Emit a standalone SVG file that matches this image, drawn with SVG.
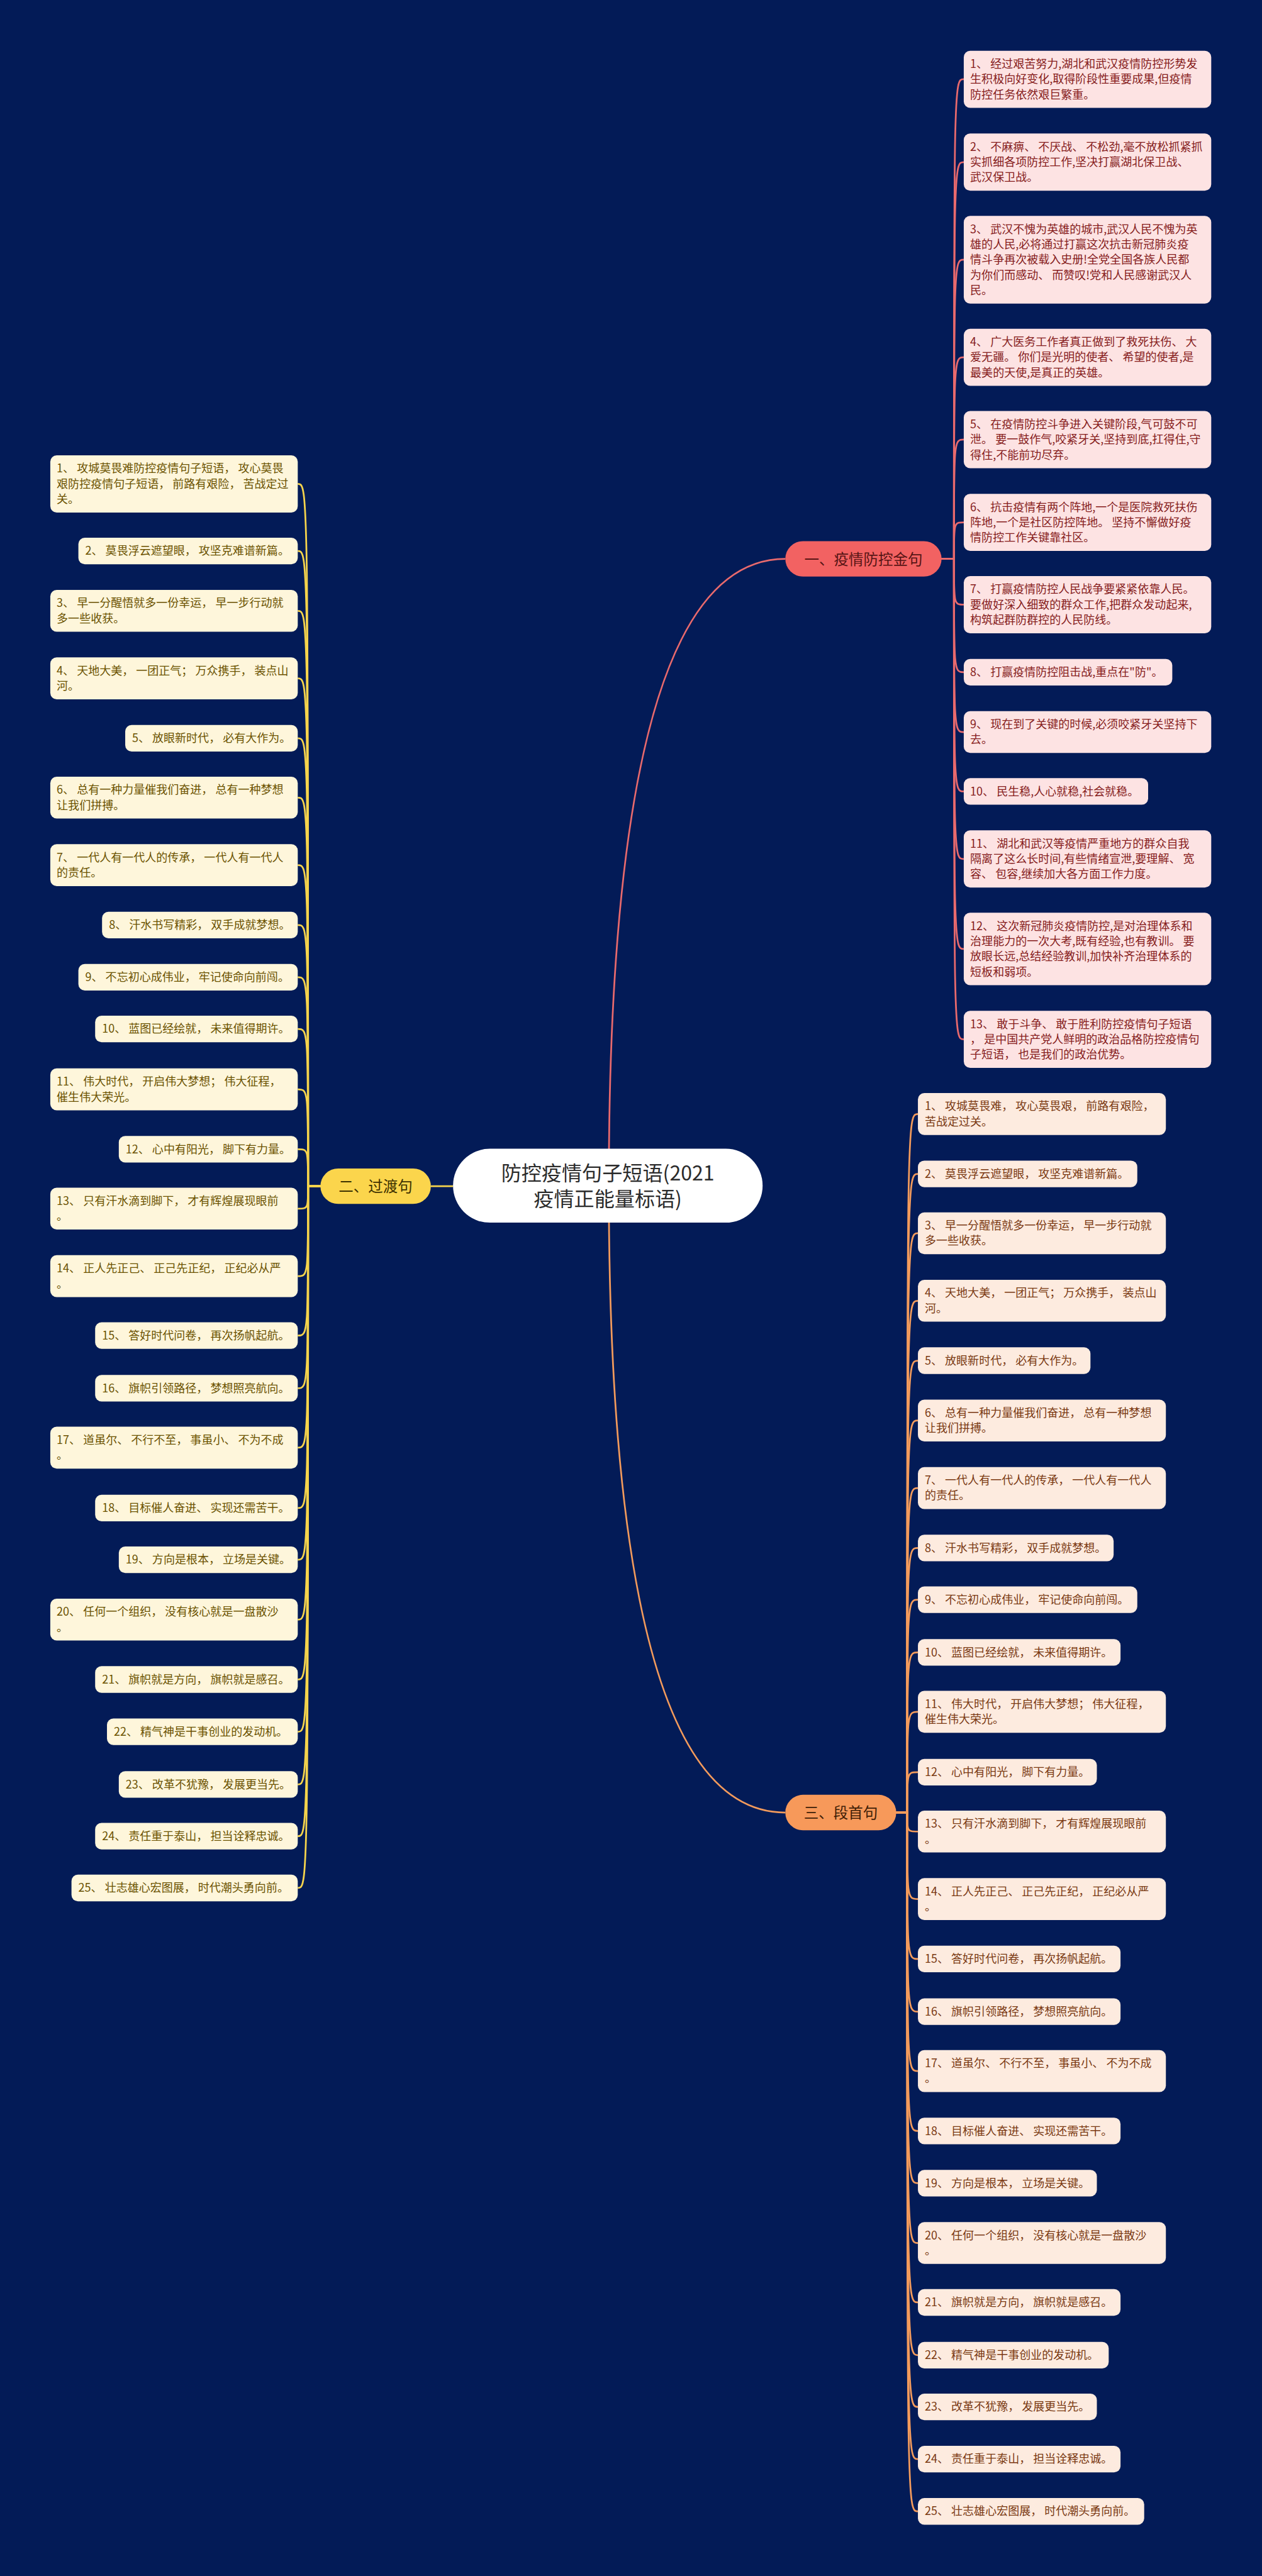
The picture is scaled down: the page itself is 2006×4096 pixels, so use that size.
<svg xmlns="http://www.w3.org/2000/svg" width="2006" height="4096" viewBox="0 0 2006 4096">
<style>
text{font-family:"Noto Sans CJK SC","Noto Sans",sans-serif;}
.lf{font-size:23px;}
.pk{fill:#FDE3E3;}
.pkt{fill:#861C1C;}
.yl{fill:#FEF6DB;}
.ylt{fill:#6B5200;}
.or{fill:#FDEBDF;}
.ort{fill:#7A3912;}
.c1{fill:none;stroke:#E96A6D;stroke-width:3.5;}
.c2{fill:none;stroke:#F6D44C;stroke-width:3.5;}
.c3{fill:none;stroke:#F39B5C;stroke-width:3.5;}
.lbl{font-size:30px;text-anchor:middle;}
</style>
<rect x="0" y="0" width="2006" height="4096" fill="#031B57"/>
<g transform="scale(0.7836)">
<g id="connectors">
<path class="c1" d="M1235 2406Q1235 1134 1593 1134" stroke-width="4.5"/>
<path class="c3" d="M1235 2406Q1235 3678 1593 3678" stroke-width="4.5"/>
<path class="c2" d="M919 2407H874" stroke-width="4.5"/>
<path class="c1" d="M1910 1134H1935C1935 160.5 1935 160.5 1955 160.5"/>
<path class="c1" d="M1910 1134H1935C1935 329 1935 329 1955 329"/>
<path class="c1" d="M1910 1134H1935C1935 527 1935 527 1955 527"/>
<path class="c1" d="M1910 1134H1935C1935 725 1935 725 1955 725"/>
<path class="c1" d="M1910 1134H1935C1935 892 1935 892 1955 892"/>
<path class="c1" d="M1910 1134H1935C1935 1060 1935 1060 1955 1060"/>
<path class="c1" d="M1910 1134H1935C1935 1227 1935 1227 1955 1227"/>
<path class="c1" d="M1910 1134H1935C1935 1364 1935 1364 1955 1364"/>
<path class="c1" d="M1910 1134H1935C1935 1485.5 1935 1485.5 1955 1485.5"/>
<path class="c1" d="M1910 1134H1935C1935 1606 1935 1606 1955 1606"/>
<path class="c1" d="M1910 1134H1935C1935 1743 1935 1743 1955 1743"/>
<path class="c1" d="M1910 1134H1935C1935 1925.5 1935 1925.5 1955 1925.5"/>
<path class="c1" d="M1910 1134H1935C1935 2109 1935 2109 1955 2109"/>
<path class="c2" d="M650 2407H625C625 982 625 982 604 982"/>
<path class="c2" d="M650 2407H625C625 1118 625 1118 604 1118"/>
<path class="c2" d="M650 2407H625C625 1239.5 625 1239.5 604 1239.5"/>
<path class="c2" d="M650 2407H625C625 1376.5 625 1376.5 604 1376.5"/>
<path class="c2" d="M650 2407H625C625 1498 625 1498 604 1498"/>
<path class="c2" d="M650 2407H625C625 1618.5 625 1618.5 604 1618.5"/>
<path class="c2" d="M650 2407H625C625 1755.5 625 1755.5 604 1755.5"/>
<path class="c2" d="M650 2407H625C625 1877 625 1877 604 1877"/>
<path class="c2" d="M650 2407H625C625 1983 625 1983 604 1983"/>
<path class="c2" d="M650 2407H625C625 2088 625 2088 604 2088"/>
<path class="c2" d="M650 2407H625C625 2210.5 625 2210.5 604 2210.5"/>
<path class="c2" d="M650 2407H625C625 2332 625 2332 604 2332"/>
<path class="c2" d="M650 2407H625C625 2452.5 625 2452.5 604 2452.5"/>
<path class="c2" d="M650 2407H625C625 2589.5 625 2589.5 604 2589.5"/>
<path class="c2" d="M650 2407H625C625 2710 625 2710 604 2710"/>
<path class="c2" d="M650 2407H625C625 2817 625 2817 604 2817"/>
<path class="c2" d="M650 2407H625C625 2937.5 625 2937.5 604 2937.5"/>
<path class="c2" d="M650 2407H625C625 3060 625 3060 604 3060"/>
<path class="c2" d="M650 2407H625C625 3165 625 3165 604 3165"/>
<path class="c2" d="M650 2407H625C625 3286.5 625 3286.5 604 3286.5"/>
<path class="c2" d="M650 2407H625C625 3408 625 3408 604 3408"/>
<path class="c2" d="M650 2407H625C625 3514 625 3514 604 3514"/>
<path class="c2" d="M650 2407H625C625 3621 625 3621 604 3621"/>
<path class="c2" d="M650 2407H625C625 3726 625 3726 604 3726"/>
<path class="c2" d="M650 2407H625C625 3831 625 3831 604 3831"/>
<path class="c3" d="M1818 3678H1840C1840 2260.5 1840 2260.5 1862 2260.5"/>
<path class="c3" d="M1818 3678H1840C1840 2382 1840 2382 1862 2382"/>
<path class="c3" d="M1818 3678H1840C1840 2502.5 1840 2502.5 1862 2502.5"/>
<path class="c3" d="M1818 3678H1840C1840 2639.5 1840 2639.5 1862 2639.5"/>
<path class="c3" d="M1818 3678H1840C1840 2761 1840 2761 1862 2761"/>
<path class="c3" d="M1818 3678H1840C1840 2882.5 1840 2882.5 1862 2882.5"/>
<path class="c3" d="M1818 3678H1840C1840 3019.5 1840 3019.5 1862 3019.5"/>
<path class="c3" d="M1818 3678H1840C1840 3141 1840 3141 1862 3141"/>
<path class="c3" d="M1818 3678H1840C1840 3246 1840 3246 1862 3246"/>
<path class="c3" d="M1818 3678H1840C1840 3353 1840 3353 1862 3353"/>
<path class="c3" d="M1818 3678H1840C1840 3473.5 1840 3473.5 1862 3473.5"/>
<path class="c3" d="M1818 3678H1840C1840 3596 1840 3596 1862 3596"/>
<path class="c3" d="M1818 3678H1840C1840 3716.5 1840 3716.5 1862 3716.5"/>
<path class="c3" d="M1818 3678H1840C1840 3853.5 1840 3853.5 1862 3853.5"/>
<path class="c3" d="M1818 3678H1840C1840 3975 1840 3975 1862 3975"/>
<path class="c3" d="M1818 3678H1840C1840 4082 1840 4082 1862 4082"/>
<path class="c3" d="M1818 3678H1840C1840 4202.5 1840 4202.5 1862 4202.5"/>
<path class="c3" d="M1818 3678H1840C1840 4324 1840 4324 1862 4324"/>
<path class="c3" d="M1818 3678H1840C1840 4430 1840 4430 1862 4430"/>
<path class="c3" d="M1818 3678H1840C1840 4551.5 1840 4551.5 1862 4551.5"/>
<path class="c3" d="M1818 3678H1840C1840 4672 1840 4672 1862 4672"/>
<path class="c3" d="M1818 3678H1840C1840 4779 1840 4779 1862 4779"/>
<path class="c3" d="M1818 3678H1840C1840 4884 1840 4884 1862 4884"/>
<path class="c3" d="M1818 3678H1840C1840 4990 1840 4990 1862 4990"/>
<path class="c3" d="M1818 3678H1840C1840 5096 1840 5096 1862 5096"/>
</g>

<g id="center">
<rect x="919" y="2331" width="628" height="150" rx="75" fill="#FFFFFF"/>
<text x="1233" y="2395" font-size="41" fill="#2B2B2B" text-anchor="middle">防控疫情句子短语(2021</text>
<text x="1233" y="2448" font-size="41" fill="#2B2B2B" text-anchor="middle">疫情正能量标语)</text>
</g>

<g id="b1">
<rect x="1593" y="1098" width="317" height="72" rx="36" fill="#F26262"/>
<text class="lbl" x="1751.5" y="1145.5" fill="#561414">一、疫情防控金句</text>
</g>
<g id="b2">
<rect x="650" y="2371" width="224" height="72" rx="36" fill="#FBD54C"/>
<text class="lbl" x="762" y="2418.5" fill="#3D3100">二、过渡句</text>
</g>
<g id="b3">
<rect x="1593" y="3642" width="225" height="72" rx="36" fill="#F7995A"/>
<text class="lbl" x="1705.5" y="3689.5" fill="#3F1E07">三、段首句</text>
</g>

<g id="p1"><rect class="pk" x="1955" y="103" width="502" height="116" rx="13"/><text class="lf pkt" x="1968" y="138">1、 经过艰苦努力,湖北和武汉疫情防控形势发<tspan x="1968" dy="31">生积极向好变化,取得阶段性重要成果,但疫情</tspan><tspan x="1968" dy="31">防控任务依然艰巨繁重。</tspan></text></g>
<g id="p2"><rect class="pk" x="1955" y="271" width="502" height="116" rx="13"/><text class="lf pkt" x="1968" y="306">2、 不麻痹、 不厌战、 不松劲,毫不放松抓紧抓<tspan x="1968" dy="31">实抓细各项防控工作,坚决打赢湖北保卫战、</tspan><tspan x="1968" dy="31">武汉保卫战。</tspan></text></g>
<g id="p3"><rect class="pk" x="1955" y="438" width="502" height="178" rx="13"/><text class="lf pkt" x="1968" y="473">3、 武汉不愧为英雄的城市,武汉人民不愧为英<tspan x="1968" dy="31">雄的人民,必将通过打赢这次抗击新冠肺炎疫</tspan><tspan x="1968" dy="31">情斗争再次被载入史册!全党全国各族人民都</tspan><tspan x="1968" dy="31">为你们而感动、 而赞叹!党和人民感谢武汉人</tspan><tspan x="1968" dy="31">民。</tspan></text></g>
<g id="p4"><rect class="pk" x="1955" y="667" width="502" height="116" rx="13"/><text class="lf pkt" x="1968" y="702">4、 广大医务工作者真正做到了救死扶伤、 大<tspan x="1968" dy="31">爱无疆。 你们是光明的使者、 希望的使者,是</tspan><tspan x="1968" dy="31">最美的天使,是真正的英雄。</tspan></text></g>
<g id="p5"><rect class="pk" x="1955" y="834" width="502" height="116" rx="13"/><text class="lf pkt" x="1968" y="869">5、 在疫情防控斗争进入关键阶段,气可鼓不可<tspan x="1968" dy="31">泄。 要一鼓作气,咬紧牙关,坚持到底,扛得住,守</tspan><tspan x="1968" dy="31">得住,不能前功尽弃。</tspan></text></g>
<g id="p6"><rect class="pk" x="1955" y="1002" width="502" height="116" rx="13"/><text class="lf pkt" x="1968" y="1037">6、 抗击疫情有两个阵地,一个是医院救死扶伤<tspan x="1968" dy="31">阵地,一个是社区防控阵地。 坚持不懈做好疫</tspan><tspan x="1968" dy="31">情防控工作关键靠社区。</tspan></text></g>
<g id="p7"><rect class="pk" x="1955" y="1169" width="502" height="116" rx="13"/><text class="lf pkt" x="1968" y="1204">7、 打赢疫情防控人民战争要紧紧依靠人民。<tspan x="1968" dy="31">要做好深入细致的群众工作,把群众发动起来,</tspan><tspan x="1968" dy="31">构筑起群防群控的人民防线。</tspan></text></g>
<g id="p8"><rect class="pk" x="1955" y="1337" width="423" height="54" rx="13"/><text class="lf pkt" x="1968" y="1372">8、 打赢疫情防控阻击战,重点在"防"。</text></g>
<g id="p9"><rect class="pk" x="1955" y="1443" width="502" height="85" rx="13"/><text class="lf pkt" x="1968" y="1478">9、 现在到了关键的时候,必须咬紧牙关坚持下<tspan x="1968" dy="31">去。</tspan></text></g>
<g id="p10"><rect class="pk" x="1955" y="1579" width="374" height="54" rx="13"/><text class="lf pkt" x="1968" y="1614">10、 民生稳,人心就稳,社会就稳。</text></g>
<g id="p11"><rect class="pk" x="1955" y="1685" width="502" height="116" rx="13"/><text class="lf pkt" x="1968" y="1720">11、 湖北和武汉等疫情严重地方的群众自我<tspan x="1968" dy="31">隔离了这么长时间,有些情绪宣泄,要理解、 宽</tspan><tspan x="1968" dy="31">容、 包容,继续加大各方面工作力度。</tspan></text></g>
<g id="p12"><rect class="pk" x="1955" y="1852" width="502" height="147" rx="13"/><text class="lf pkt" x="1968" y="1887">12、 这次新冠肺炎疫情防控,是对治理体系和<tspan x="1968" dy="31">治理能力的一次大考,既有经验,也有教训。 要</tspan><tspan x="1968" dy="31">放眼长远,总结经验教训,加快补齐治理体系的</tspan><tspan x="1968" dy="31">短板和弱项。</tspan></text></g>
<g id="p13"><rect class="pk" x="1955" y="2051" width="502" height="116" rx="13"/><text class="lf pkt" x="1968" y="2086">13、 敢于斗争、 敢于胜利防控疫情句子短语<tspan x="1968" dy="31">， 是中国共产党人鲜明的政治品格防控疫情句</tspan><tspan x="1968" dy="31">子短语， 也是我们的政治优势。</tspan></text></g>

<g id="l1"><rect class="yl" x="102" y="924" width="502" height="116" rx="13"/><text class="lf ylt" x="115" y="959">1、 攻城莫畏难防控疫情句子短语， 攻心莫畏<tspan x="115" dy="31">艰防控疫情句子短语， 前路有艰险， 苦战定过</tspan><tspan x="115" dy="31">关。</tspan></text></g>
<g id="l2"><rect class="yl" x="159" y="1091" width="445" height="54" rx="13"/><text class="lf ylt" x="173" y="1126">2、 莫畏浮云遮望眼， 攻坚克难谱新篇。</text></g>
<g id="l3"><rect class="yl" x="102" y="1197" width="502" height="85" rx="13"/><text class="lf ylt" x="115" y="1232">3、 早一分醒悟就多一份幸运， 早一步行动就<tspan x="115" dy="31">多一些收获。</tspan></text></g>
<g id="l4"><rect class="yl" x="102" y="1334" width="502" height="85" rx="13"/><text class="lf ylt" x="115" y="1369">4、 天地大美， 一团正气； 万众携手， 装点山<tspan x="115" dy="31">河。</tspan></text></g>
<g id="l5"><rect class="yl" x="254" y="1471" width="350" height="54" rx="13"/><text class="lf ylt" x="268" y="1506">5、 放眼新时代， 必有大作为。</text></g>
<g id="l6"><rect class="yl" x="102" y="1576" width="502" height="85" rx="13"/><text class="lf ylt" x="115" y="1611">6、 总有一种力量催我们奋进， 总有一种梦想<tspan x="115" dy="31">让我们拼搏。</tspan></text></g>
<g id="l7"><rect class="yl" x="102" y="1713" width="502" height="85" rx="13"/><text class="lf ylt" x="115" y="1748">7、 一代人有一代人的传承， 一代人有一代人<tspan x="115" dy="31">的责任。</tspan></text></g>
<g id="l8"><rect class="yl" x="207" y="1850" width="397" height="54" rx="13"/><text class="lf ylt" x="221" y="1885">8、 汗水书写精彩， 双手成就梦想。</text></g>
<g id="l9"><rect class="yl" x="159" y="1956" width="445" height="54" rx="13"/><text class="lf ylt" x="173" y="1991">9、 不忘初心成伟业， 牢记使命向前闯。</text></g>
<g id="l10"><rect class="yl" x="193" y="2061" width="411" height="54" rx="13"/><text class="lf ylt" x="207" y="2096">10、 蓝图已经绘就， 未来值得期许。</text></g>
<g id="l11"><rect class="yl" x="102" y="2168" width="502" height="85" rx="13"/><text class="lf ylt" x="115" y="2203">11、 伟大时代， 开启伟大梦想； 伟大征程，<tspan x="115" dy="31">催生伟大荣光。</tspan></text></g>
<g id="l12"><rect class="yl" x="241" y="2305" width="363" height="54" rx="13"/><text class="lf ylt" x="255" y="2340">12、 心中有阳光， 脚下有力量。</text></g>
<g id="l13"><rect class="yl" x="102" y="2410" width="502" height="85" rx="13"/><text class="lf ylt" x="115" y="2445">13、 只有汗水滴到脚下， 才有辉煌展现眼前<tspan x="115" dy="31">。</tspan></text></g>
<g id="l14"><rect class="yl" x="102" y="2547" width="502" height="85" rx="13"/><text class="lf ylt" x="115" y="2582">14、 正人先正己、 正己先正纪， 正纪必从严<tspan x="115" dy="31">。</tspan></text></g>
<g id="l15"><rect class="yl" x="193" y="2683" width="411" height="54" rx="13"/><text class="lf ylt" x="207" y="2718">15、 答好时代问卷， 再次扬帆起航。</text></g>
<g id="l16"><rect class="yl" x="193" y="2790" width="411" height="54" rx="13"/><text class="lf ylt" x="207" y="2825">16、 旗帜引领路径， 梦想照亮航向。</text></g>
<g id="l17"><rect class="yl" x="102" y="2895" width="502" height="85" rx="13"/><text class="lf ylt" x="115" y="2930">17、 道虽尔、 不行不至， 事虽小、 不为不成<tspan x="115" dy="31">。</tspan></text></g>
<g id="l18"><rect class="yl" x="193" y="3033" width="411" height="54" rx="13"/><text class="lf ylt" x="207" y="3068">18、 目标催人奋进、 实现还需苦干。</text></g>
<g id="l19"><rect class="yl" x="241" y="3138" width="363" height="54" rx="13"/><text class="lf ylt" x="255" y="3173">19、 方向是根本， 立场是关键。</text></g>
<g id="l20"><rect class="yl" x="102" y="3244" width="502" height="85" rx="13"/><text class="lf ylt" x="115" y="3279">20、 任何一个组织， 没有核心就是一盘散沙<tspan x="115" dy="31">。</tspan></text></g>
<g id="l21"><rect class="yl" x="193" y="3381" width="411" height="54" rx="13"/><text class="lf ylt" x="207" y="3416">21、 旗帜就是方向， 旗帜就是感召。</text></g>
<g id="l22"><rect class="yl" x="217" y="3487" width="387" height="54" rx="13"/><text class="lf ylt" x="231" y="3522">22、 精气神是干事创业的发动机。</text></g>
<g id="l23"><rect class="yl" x="241" y="3594" width="363" height="54" rx="13"/><text class="lf ylt" x="255" y="3629">23、 改革不犹豫， 发展更当先。</text></g>
<g id="l24"><rect class="yl" x="193" y="3699" width="411" height="54" rx="13"/><text class="lf ylt" x="207" y="3734">24、 责任重于泰山， 担当诠释忠诚。</text></g>
<g id="l25"><rect class="yl" x="145" y="3804" width="459" height="54" rx="13"/><text class="lf ylt" x="159" y="3839">25、 壮志雄心宏图展， 时代潮头勇向前。</text></g>

<g id="r1"><rect class="or" x="1862" y="2218" width="503" height="85" rx="13"/><text class="lf ort" x="1876" y="2253">1、 攻城莫畏难， 攻心莫畏艰， 前路有艰险，<tspan x="1876" dy="31">苦战定过关。</tspan></text></g>
<g id="r2"><rect class="or" x="1862" y="2355" width="445" height="54" rx="13"/><text class="lf ort" x="1876" y="2390">2、 莫畏浮云遮望眼， 攻坚克难谱新篇。</text></g>
<g id="r3"><rect class="or" x="1862" y="2460" width="503" height="85" rx="13"/><text class="lf ort" x="1876" y="2495">3、 早一分醒悟就多一份幸运， 早一步行动就<tspan x="1876" dy="31">多一些收获。</tspan></text></g>
<g id="r4"><rect class="or" x="1862" y="2597" width="503" height="85" rx="13"/><text class="lf ort" x="1876" y="2632">4、 天地大美， 一团正气； 万众携手， 装点山<tspan x="1876" dy="31">河。</tspan></text></g>
<g id="r5"><rect class="or" x="1862" y="2734" width="350" height="54" rx="13"/><text class="lf ort" x="1876" y="2769">5、 放眼新时代， 必有大作为。</text></g>
<g id="r6"><rect class="or" x="1862" y="2840" width="503" height="85" rx="13"/><text class="lf ort" x="1876" y="2875">6、 总有一种力量催我们奋进， 总有一种梦想<tspan x="1876" dy="31">让我们拼搏。</tspan></text></g>
<g id="r7"><rect class="or" x="1862" y="2977" width="503" height="85" rx="13"/><text class="lf ort" x="1876" y="3012">7、 一代人有一代人的传承， 一代人有一代人<tspan x="1876" dy="31">的责任。</tspan></text></g>
<g id="r8"><rect class="or" x="1862" y="3114" width="397" height="54" rx="13"/><text class="lf ort" x="1876" y="3149">8、 汗水书写精彩， 双手成就梦想。</text></g>
<g id="r9"><rect class="or" x="1862" y="3219" width="445" height="54" rx="13"/><text class="lf ort" x="1876" y="3254">9、 不忘初心成伟业， 牢记使命向前闯。</text></g>
<g id="r10"><rect class="or" x="1862" y="3326" width="411" height="54" rx="13"/><text class="lf ort" x="1876" y="3361">10、 蓝图已经绘就， 未来值得期许。</text></g>
<g id="r11"><rect class="or" x="1862" y="3431" width="503" height="85" rx="13"/><text class="lf ort" x="1876" y="3466">11、 伟大时代， 开启伟大梦想； 伟大征程，<tspan x="1876" dy="31">催生伟大荣光。</tspan></text></g>
<g id="r12"><rect class="or" x="1862" y="3569" width="363" height="54" rx="13"/><text class="lf ort" x="1876" y="3604">12、 心中有阳光， 脚下有力量。</text></g>
<g id="r13"><rect class="or" x="1862" y="3674" width="503" height="85" rx="13"/><text class="lf ort" x="1876" y="3709">13、 只有汗水滴到脚下， 才有辉煌展现眼前<tspan x="1876" dy="31">。</tspan></text></g>
<g id="r14"><rect class="or" x="1862" y="3811" width="503" height="85" rx="13"/><text class="lf ort" x="1876" y="3846">14、 正人先正己、 正己先正纪， 正纪必从严<tspan x="1876" dy="31">。</tspan></text></g>
<g id="r15"><rect class="or" x="1862" y="3948" width="411" height="54" rx="13"/><text class="lf ort" x="1876" y="3983">15、 答好时代问卷， 再次扬帆起航。</text></g>
<g id="r16"><rect class="or" x="1862" y="4055" width="411" height="54" rx="13"/><text class="lf ort" x="1876" y="4090">16、 旗帜引领路径， 梦想照亮航向。</text></g>
<g id="r17"><rect class="or" x="1862" y="4160" width="503" height="85" rx="13"/><text class="lf ort" x="1876" y="4195">17、 道虽尔、 不行不至， 事虽小、 不为不成<tspan x="1876" dy="31">。</tspan></text></g>
<g id="r18"><rect class="or" x="1862" y="4297" width="411" height="54" rx="13"/><text class="lf ort" x="1876" y="4332">18、 目标催人奋进、 实现还需苦干。</text></g>
<g id="r19"><rect class="or" x="1862" y="4403" width="363" height="54" rx="13"/><text class="lf ort" x="1876" y="4438">19、 方向是根本， 立场是关键。</text></g>
<g id="r20"><rect class="or" x="1862" y="4509" width="503" height="85" rx="13"/><text class="lf ort" x="1876" y="4544">20、 任何一个组织， 没有核心就是一盘散沙<tspan x="1876" dy="31">。</tspan></text></g>
<g id="r21"><rect class="or" x="1862" y="4645" width="411" height="54" rx="13"/><text class="lf ort" x="1876" y="4680">21、 旗帜就是方向， 旗帜就是感召。</text></g>
<g id="r22"><rect class="or" x="1862" y="4752" width="387" height="54" rx="13"/><text class="lf ort" x="1876" y="4787">22、 精气神是干事创业的发动机。</text></g>
<g id="r23"><rect class="or" x="1862" y="4857" width="363" height="54" rx="13"/><text class="lf ort" x="1876" y="4892">23、 改革不犹豫， 发展更当先。</text></g>
<g id="r24"><rect class="or" x="1862" y="4963" width="411" height="54" rx="13"/><text class="lf ort" x="1876" y="4998">24、 责任重于泰山， 担当诠释忠诚。</text></g>
<g id="r25"><rect class="or" x="1862" y="5069" width="459" height="54" rx="13"/><text class="lf ort" x="1876" y="5104">25、 壮志雄心宏图展， 时代潮头勇向前。</text></g>
</g>
</svg>
